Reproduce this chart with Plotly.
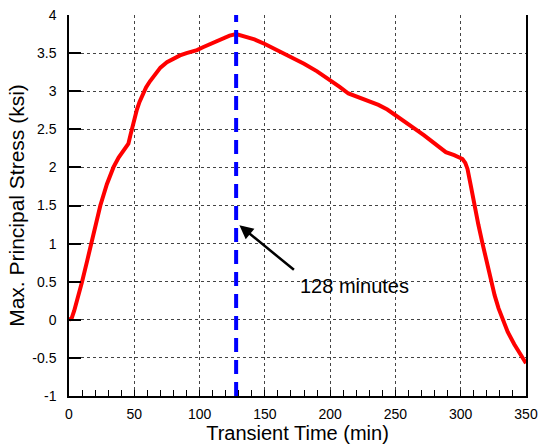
import plotly.graph_objects as go

# ---- data ----
time_min = [0, 2, 4, 7, 10, 14, 17, 21, 24, 29, 34, 38, 42, 45.5, 47, 48, 50, 52, 54, 56.5,
            59, 62, 66, 70, 75, 80, 85, 90, 95, 98, 103, 108, 113, 118, 123, 128, 135, 142,
            150, 157, 164.5, 172, 180, 190, 200, 207, 214, 222, 230, 237, 243.8, 250, 258,
            265.5, 272, 280, 288.6, 295, 301.4, 303.5, 305.2, 307.5, 310.3, 313.5, 316.7,
            320, 323, 326, 329, 332, 336, 341, 346, 350]
stress_ksi = [0, 0.02, 0.12, 0.3, 0.5, 0.78, 1.0, 1.28, 1.5, 1.78, 2.0, 2.13, 2.23, 2.31, 2.42,
              2.5, 2.63, 2.76, 2.86, 2.97, 3.05, 3.13, 3.23, 3.31, 3.38, 3.43, 3.47, 3.5, 3.52,
              3.54, 3.58, 3.62, 3.66, 3.7, 3.73, 3.75, 3.72, 3.68, 3.62, 3.56, 3.5, 3.43, 3.36,
              3.26, 3.15, 3.06, 2.97, 2.92, 2.87, 2.82, 2.76, 2.69, 2.6, 2.5, 2.42, 2.31, 2.2,
              2.16, 2.11, 2.06, 1.98, 1.78, 1.5, 1.25, 1.0, 0.75, 0.52, 0.32, 0.15, 0.0, -0.16,
              -0.32, -0.455, -0.57]

marker_time = 128
marker_span = [-1, 4]
annotation_text = "128 minutes"
arrow_head = (130.5, 1.24)
arrow_tail = (173.4, 0.64)
text_pos = (175.5, 0.44)

x_tick_vals = [0, 50, 100, 150, 200, 250, 300, 350]
x_tick_labels = ["0", "50", "100", "150", "200", "250", "300", "350"]
y_tick_vals = [-1, -0.5, 0, 0.5, 1, 1.5, 2, 2.5, 3, 3.5, 4]
y_tick_labels = ["-1", "-0.5", "0", "0.5", "1", "1.5", "2", "2.5", "3", "3.5", "4"]

FONT = "Arial, Liberation Sans, sans-serif"

fig = go.Figure()
fig.add_trace(go.Scatter(x=time_min, y=stress_ksi, mode="lines",
                         line=dict(color="#ff0000", width=4), showlegend=False,
                         hoverinfo="skip"))
fig.add_trace(go.Scatter(x=[marker_time, marker_time], y=marker_span, mode="lines",
                         line=dict(color="#0000ff", width=4, dash="14px,8px"),
                         showlegend=False, hoverinfo="skip"))

fig.add_annotation(x=arrow_head[0], y=arrow_head[1], ax=arrow_tail[0], ay=arrow_tail[1],
                   axref="x", ayref="y", xref="x", yref="y", text="", showarrow=True,
                   arrowhead=2, arrowsize=1.1, arrowwidth=2.5, arrowcolor="black")
fig.add_annotation(x=text_pos[0], y=text_pos[1], xref="x", yref="y", text=annotation_text,
                   showarrow=False, xanchor="left", yanchor="middle",
                   font=dict(family=FONT, size=20, color="black"))

fig.update_layout(
    width=546, height=444,
    margin=dict(l=69, r=20, t=15, b=48),
    paper_bgcolor="white", plot_bgcolor="white",
    font=dict(family=FONT, color="black"),
    xaxis=dict(range=[0, 350], tickvals=x_tick_vals, ticktext=x_tick_labels,
               automargin=False,
               ticks="inside", ticklen=6, tickcolor="black", tickwidth=1,
               tickfont=dict(size=14), ticklabelstandoff=4,
               showline=True, linecolor="black", linewidth=1.5, mirror=False,
               showgrid=True, gridcolor="#444", gridwidth=1, griddash="3px,3px",
               minor=dict(dtick=10, ticks="inside", ticklen=6, tickcolor="black",
                          tickwidth=1, showgrid=False),
               zeroline=False,
               title=dict(text="Transient Time (min)", font=dict(size=20), standoff=2)),
    yaxis=dict(range=[-1, 4], tickvals=y_tick_vals, ticktext=y_tick_labels,
               automargin=False,
               ticks="inside", ticklen=12, tickcolor="black", tickwidth=1.5,
               tickfont=dict(size=14), ticklabelstandoff=8,
               showline=True, linecolor="black", linewidth=1.5, mirror=True,
               showgrid=True, gridcolor="#444", gridwidth=1, griddash="3px,3px",
               zeroline=False,
               title=dict(text="Max. Principal Stress (ksi)", font=dict(size=21), standoff=2)),
)

fig.write_html("out.html")
